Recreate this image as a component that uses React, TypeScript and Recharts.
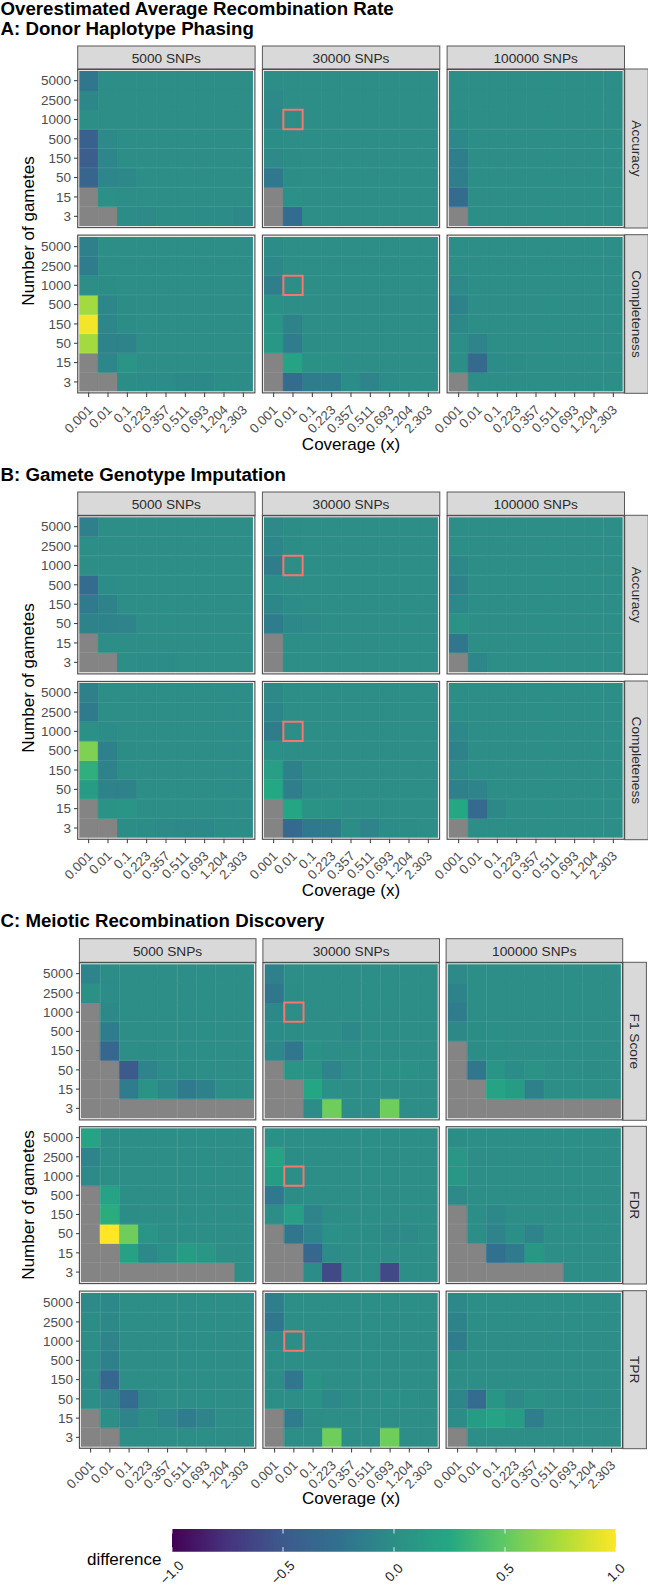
import { AreaChart, Area, BarChart, Bar, Cell, CartesianGrid, ReferenceArea, ReferenceLine, XAxis, YAxis } from "recharts";

const FONT = "'Liberation Sans', Arimo, Helvetica, Arial, sans-serif";

const COVERAGE = ["0.001", "0.01", "0.1", "0.223", "0.357", "0.511", "0.693", "1.204", "2.303"];
const GAMETES = ["5000", "2500", "1000", "500", "150", "50", "15", "3"];
const SNPS = ["5000 SNPs", "30000 SNPs", "100000 SNPs"];
const LEGEND_TICKS = [-1, -0.5, 0, 0.5, 1];
const N = null;

// rows run top to bottom (5000 .. 3 gametes), columns follow COVERAGE, null = no data
const phasingAccuracy5k = [
  [-0.2, 0, 0, 0, 0, 0, 0, 0, 0],
  [-0.06, 0, 0, 0, 0, 0, 0, 0, 0],
  [0.01, 0, 0, 0, 0, 0, 0, 0, 0],
  [-0.42, -0.03, 0, 0, 0, 0, 0, 0, 0],
  [-0.45, -0.07, 0, 0, 0, 0, 0, 0, 0],
  [-0.38, -0.07, -0.05, 0, 0, 0, 0, 0, 0],
  [N, 0.02, 0, 0, 0, 0, 0, 0, 0],
  [N, N, -0.01, -0.03, -0.01, -0.01, -0.02, -0.02, -0.04],
];
const phasingAccuracy30k = [
  [0, 0, 0, 0, 0, 0, 0, 0, 0],
  [-0.03, 0, 0, 0, 0, 0, 0, 0, 0],
  [-0.05, 0, 0, 0, 0, 0, 0, 0, 0],
  [-0.01, 0, 0, 0, 0, 0, 0, 0, 0],
  [-0.03, -0.01, 0, 0, 0, 0, 0, 0, 0],
  [-0.18, -0.01, 0, 0, 0, 0, 0, 0, 0],
  [N, 0.02, 0, 0, 0, 0, 0, 0, 0],
  [N, -0.3, 0, 0, 0, 0, 0, 0, 0],
];
const phasingAccuracy100k = [
  [0, 0, 0, 0, 0, 0, 0, 0, 0],
  [0, 0, 0, 0, 0, 0, 0, 0, 0],
  [-0.01, 0, 0, 0, 0, 0, 0, 0, 0],
  [-0.05, 0, 0, 0, 0, 0, 0, 0, 0],
  [-0.13, 0, 0, 0, 0, 0, 0, 0, 0],
  [-0.13, 0, 0, 0, 0, 0, 0, 0, 0],
  [-0.3, 0, 0, 0, 0, 0, 0, 0, 0],
  [N, 0.005, 0, 0, 0, 0, 0, 0, 0],
];
const phasingComplete5k = [
  [-0.12, 0, 0, 0, 0, 0, 0, 0, 0],
  [-0.15, 0, 0, 0, 0, 0, 0, 0, 0],
  [0, -0.01, 0, 0, 0, 0, 0, 0, 0],
  [0.72, -0.07, -0.01, 0, 0, 0, 0, 0, 0],
  [0.97, -0.07, -0.01, 0, 0, 0, 0, 0, 0],
  [0.72, -0.1, -0.1, 0, 0, 0, 0, 0, 0],
  [N, -0.07, 0.06, 0, 0, 0, 0, 0, 0],
  [N, N, -0.01, -0.02, -0.02, -0.04, -0.04, -0.01, -0.02],
];
const phasingComplete30k = [
  [-0.02, 0, 0, 0, 0, 0, 0, 0, 0],
  [-0.05, 0, 0, 0, 0, 0, 0, 0, 0],
  [-0.13, 0, 0, 0, 0, 0, 0, 0, 0],
  [0.03, 0, 0, 0, 0, 0, 0, 0, 0],
  [0.07, -0.1, 0, 0, 0, 0, 0, 0, 0],
  [0.1, -0.15, -0.01, 0, 0, 0, 0, 0, 0],
  [N, 0.2, 0.03, 0.03, 0, 0, 0, 0, 0],
  [N, -0.3, -0.15, -0.15, -0.02, -0.08, -0.02, 0, 0],
];
const phasingComplete100k = [
  [0, 0, 0, 0, 0, 0, 0, 0, 0],
  [0, 0, 0, 0, 0, 0, 0, 0, 0],
  [-0.03, 0, 0, 0, 0, 0, 0, 0, 0],
  [-0.1, 0, 0, 0, 0, 0, 0, 0, 0],
  [-0.04, 0, 0, 0, 0, 0, 0, 0, 0],
  [0, -0.08, 0, 0, 0, 0, 0, 0, 0],
  [0, -0.33, -0.02, -0.01, 0, 0, 0, 0, 0],
  [N, 0, 0, 0, 0, 0, 0, 0, 0],
];

const imputeAccuracy5k = [
  [-0.12, 0, 0, 0, 0, 0, 0, 0, 0],
  [0.01, 0, 0, 0, 0, 0, 0, 0, 0],
  [0, 0, 0, 0, 0, 0, 0, 0, 0],
  [-0.3, -0.02, 0, 0, 0, 0, 0, 0, 0],
  [-0.17, -0.1, 0, 0, 0, 0, 0, 0, 0],
  [-0.1, -0.1, -0.08, 0, 0, 0, 0, 0, 0],
  [N, 0, 0, 0, 0, 0, 0, 0, 0],
  [N, N, 0, -0.02, -0.02, 0, 0, 0, 0],
];
const imputeAccuracy30k = [
  [-0.03, -0.01, 0, 0, 0, 0, 0, 0, 0],
  [-0.07, -0.01, 0, 0, 0, 0, 0, 0, 0],
  [-0.14, 0, 0, 0, 0, 0, 0, 0, 0],
  [-0.02, 0, 0, 0, 0, 0, 0, 0, 0],
  [-0.06, -0.02, 0, 0, 0, 0, 0, 0, 0],
  [-0.15, -0.05, -0.03, 0, 0, 0, 0, 0, 0],
  [N, 0, 0, 0, 0, 0, 0, 0, 0],
  [N, 0, 0, 0, 0, 0, 0, 0, 0],
];
const imputeAccuracy100k = [
  [0, 0, 0, 0, 0, 0, 0, 0, 0],
  [0, 0, 0, 0, 0, 0, 0, 0, 0],
  [-0.04, 0, 0, 0, 0, 0, 0, 0, 0],
  [-0.1, 0, 0, 0, 0, 0, 0, 0, 0],
  [-0.05, 0, 0, 0, 0, 0, 0, 0, 0],
  [0.04, 0, 0, 0, 0, 0, 0, 0, 0],
  [-0.2, 0, 0, 0, 0, 0, 0, 0, 0],
  [N, -0.07, 0, 0, 0, 0, 0, 0, 0],
];
const imputeComplete5k = [
  [-0.12, 0, 0, 0, 0, 0, 0, 0, 0],
  [-0.17, 0, 0, 0, 0, 0, 0, 0, 0],
  [0.03, -0.02, 0, 0, 0, 0, 0, 0, 0],
  [0.6, -0.12, -0.01, 0, 0, 0, 0, 0, 0],
  [0.3, -0.1, 0, 0, 0, 0, 0, 0, 0],
  [0.13, -0.1, -0.1, 0, 0, 0, 0, 0, 0],
  [N, 0.05, 0.06, 0, 0, 0, 0, 0, 0],
  [N, N, -0.01, -0.02, -0.03, -0.05, -0.05, -0.01, -0.02],
];
const imputeComplete30k = [
  [-0.04, 0, 0, 0, 0, 0, 0, 0, 0],
  [-0.07, 0, 0, 0, 0, 0, 0, 0, 0],
  [-0.14, 0, 0, 0, 0, 0, 0, 0, 0],
  [0.02, 0, 0, 0, 0, 0, 0, 0, 0],
  [0.15, -0.12, -0.01, 0, 0, 0, 0, 0, 0],
  [0.25, -0.13, -0.02, 0, 0, 0, 0, 0, 0],
  [N, 0.22, 0.04, 0.03, 0, 0, 0, 0, 0],
  [N, -0.33, -0.18, -0.16, -0.01, -0.08, -0.02, -0.01, 0],
];
const imputeComplete100k = [
  [0, 0, 0, 0, 0, 0, 0, 0, 0],
  [0, 0, 0, 0, 0, 0, 0, 0, 0],
  [-0.05, 0, 0, 0, 0, 0, 0, 0, 0],
  [-0.1, 0, 0, 0, 0, 0, 0, 0, 0],
  [-0.03, 0, 0, 0, 0, 0, 0, 0, 0],
  [-0.12, -0.08, 0, 0, 0, 0, 0, 0, 0],
  [0.25, -0.33, -0.04, 0, 0, 0, 0, 0, 0],
  [N, 0, 0, 0, 0, 0, 0, 0, 0],
];

const discoveryF15k = [
  [-0.08, -0.02, 0, 0, 0, 0, 0, 0, 0],
  [0.03, -0.02, 0, 0, 0, 0, 0, 0, 0],
  [N, -0.04, 0, 0, 0, 0, 0, 0, 0],
  [N, -0.15, 0, 0, 0, 0, 0, 0, 0],
  [N, -0.35, 0, -0.01, 0, 0, 0, 0, 0],
  [N, N, -0.5, -0.08, -0.02, -0.01, 0, 0, 0],
  [N, N, -0.15, 0.05, -0.05, -0.17, -0.12, 0, 0],
  [N, N, N, N, N, N, N, N, N],
];
const discoveryF130k = [
  [-0.12, 0, 0, 0, 0, 0, 0, 0, 0],
  [-0.2, -0.01, 0, 0, 0, 0, 0, 0, 0],
  [-0.05, 0, 0, 0, 0, 0, 0, 0, 0],
  [-0.02, -0.01, 0, 0, -0.05, 0, 0, 0, 0],
  [-0.05, -0.2, 0.03, 0, 0, 0, 0, 0, 0],
  [N, 0.06, 0.04, -0.08, 0, 0, 0.03, 0.03, 0],
  [N, N, 0.22, 0.02, 0, 0, 0, 0, 0],
  [N, N, -0.02, 0.55, 0, 0, 0.55, 0, 0],
];
const discoveryF1100k = [
  [-0.03, 0, 0, 0, 0, 0, 0, 0, 0],
  [-0.1, 0, 0, 0, 0, 0, 0, 0, 0],
  [-0.15, 0, 0, 0, 0, 0, 0, 0, 0],
  [-0.04, -0.01, 0.01, 0, 0, 0, 0, 0, 0],
  [N, -0.01, 0.01, 0, 0, 0, 0, 0, 0],
  [N, -0.2, 0.07, -0.02, 0.05, 0, 0, -0.01, 0],
  [N, N, 0.2, 0.13, -0.12, 0, 0, 0, 0],
  [N, N, N, N, N, N, N, N, N],
];
const discoveryFdr5k = [
  [0.2, 0, 0, 0, 0, 0, 0, 0, 0],
  [-0.08, 0, 0, 0, 0, 0, 0, 0, 0],
  [-0.03, 0, 0, 0, 0, 0, 0, 0, 0],
  [N, 0.2, 0, 0, 0, 0, 0, 0, 0],
  [N, 0.28, -0.02, 0, 0, 0, 0, 0, 0],
  [N, 1, 0.55, 0.06, 0, 0.01, 0, 0, 0],
  [N, N, 0.18, -0.05, 0.02, 0.13, 0.08, 0, 0],
  [N, N, N, N, N, N, N, N, 0],
];
const discoveryFdr30k = [
  [0.03, 0, 0, 0, 0, 0, 0, 0, 0],
  [0.2, -0.01, 0, 0, 0, 0, 0, 0, 0],
  [0.13, 0, 0, 0, 0, 0, 0, 0, 0],
  [-0.18, -0.01, 0, 0, 0, 0, 0, 0, 0],
  [0, 0.15, -0.08, -0.01, 0, 0, 0, 0, 0],
  [N, -0.2, -0.08, 0.02, 0, -0.01, -0.03, -0.03, 0],
  [N, N, -0.35, -0.02, 0, 0, 0, 0, 0],
  [N, N, -0.02, -0.6, 0, 0, -0.6, 0, 0],
];
const discoveryFdr100k = [
  [-0.01, 0, 0, 0, 0, 0, 0, 0, 0],
  [0.08, 0, 0, 0, 0, 0, 0, 0, 0],
  [0.09, 0, 0, 0, 0, 0, 0, 0, 0],
  [-0.03, 0, 0, 0, 0, 0, 0, 0, 0],
  [N, 0, -0.05, 0, 0, 0, 0, 0, 0],
  [N, 0, -0.08, 0.01, -0.08, 0, 0, 0, 0],
  [N, N, -0.25, -0.17, 0.1, 0, 0, 0, 0],
  [N, N, N, N, N, N, 0, 0, 0],
];
const discoveryTpr5k = [
  [-0.03, -0.05, 0, 0, 0, 0, 0, 0, 0],
  [-0.01, -0.04, 0, 0, 0, 0, 0, 0, 0],
  [0, -0.08, 0, 0, 0, 0, 0, 0, 0],
  [0, -0.12, 0, 0, 0, 0, 0, 0, 0],
  [0, -0.35, 0, 0, 0, 0, 0, 0, 0],
  [0, -0.07, -0.3, -0.04, 0, 0, 0, 0, 0],
  [N, 0, -0.08, -0.01, -0.07, -0.15, -0.08, 0, 0],
  [N, N, 0, 0, 0, 0, 0, 0, 0],
];
const discoveryTpr30k = [
  [-0.13, 0, 0, 0, 0, 0, 0, 0, 0],
  [-0.2, 0, 0, 0, 0, 0, 0, 0, 0],
  [-0.03, 0, 0, 0, 0, 0, 0, 0, 0],
  [0, 0, 0, 0, 0, 0, 0, 0, 0],
  [0, -0.2, 0.05, 0, 0, 0, 0, 0, 0],
  [0, 0, 0.03, -0.05, -0.01, 0, 0.02, 0.01, -0.01],
  [N, -0.15, -0.01, 0, 0, 0, 0, 0, 0],
  [N, 0, 0, 0.55, 0, 0, 0.55, 0, 0],
];
const discoveryTpr100k = [
  [-0.05, 0, 0, 0, 0, 0, 0, 0, 0],
  [-0.1, 0, 0, 0, 0, 0, 0, 0, 0],
  [-0.15, 0, 0, 0, 0, 0, 0, 0, 0],
  [-0.01, 0, 0, 0, 0, 0, 0, 0, 0],
  [0, 0, 0, 0, 0, 0, 0, 0, 0],
  [-0.07, -0.3, 0.07, -0.03, 0.03, 0, -0.01, -0.02, -0.01],
  [-0.02, 0.13, 0.2, 0.13, -0.13, 0, 0, 0, 0],
  [N, 0, 0, 0, 0, 0, 0, 0, 0],
];

// viridis, nudged towards the tones in the reference
const VIRIDIS = ["#440154", "#46337F", "#3D5A8D", "#31708F", "#2C8E87", "#23A883", "#60C963", "#ACDC3A", "#FDE725"];

const GREY = "#848484";

function hexToRgb(h: string) {
  return [1, 3, 5].map((i) => parseInt(h.slice(i, i + 2), 16));
}

function colorOf(v: number | null) {
  if (v === null) return GREY;
  const t = ((Math.max(-1, Math.min(1, v)) + 1) / 2) * (VIRIDIS.length - 1);
  const i = Math.min(Math.floor(t), VIRIDIS.length - 2);
  const a = hexToRgb(VIRIDIS[i]);
  const b = hexToRgb(VIRIDIS[i + 1]);
  const mix = a.map((c, k) => Math.round(c + (b[k] - c) * (t - i)));
  return `rgb(${mix[0]},${mix[1]},${mix[2]})`;
}

// same layout for every facet table: value 1 is one tile tall
const tileTable = COVERAGE.map((c) => {
  const row: Record<string, number | string> = { coverage: c };
  GAMETES.forEach((g) => (row[`g${g}`] = 1));
  return row;
});
const yTicks = GAMETES.map((_, i) => GAMETES.length - i - 0.5);

const AXIS_W = 40;
const AXIS_H = 52;
const LEGEND_PAD = 24;

function XTick({ x, y, payload }: any) {
  return (
    <text
      x={x}
      y={y + 7}
      transform={`rotate(-45 ${x} ${y + 7})`}
      textAnchor="end"
      fontSize={13.2}
      fill="#4D4D4D"
      fontFamily={FONT}
      dy="0.5em"
    >
      {payload.value}
    </text>
  );
}

function LegendTick({ x, y, payload }: any) {
  const cy = y + 13;
  const v = payload.value as number;
  const label = (v < 0 ? "\u2212" : "") + Math.abs(v).toFixed(1);
  return (
    <text
      x={x}
      y={cy}
      transform={`rotate(-45 ${x} ${cy})`}
      textAnchor="middle"
      dominantBaseline="central"
      fontSize={13.6}
      fill="#222"
      fontFamily={FONT}
    >
      {label}
    </text>
  );
}

type PanelProps = {
  matrix: (number | null)[][];
  left: number;
  top: number;
  width: number;
  height: number;
  showY: boolean;
  showX: boolean;
  box: boolean;
  hSeams: number[];
  vSeams: number[];
};

function Panel({ matrix, left, top, width, height, showY, showX, box, hSeams, vSeams }: PanelProps) {
  return (
    <div style={{ position: "absolute", left: left - AXIS_W, top }}>
      <BarChart
        width={width + AXIS_W}
        height={height + AXIS_H}
        data={tileTable}
        barCategoryGap={0}
        margin={{ top: 0, right: 0, bottom: 0, left: 0 }}
      >
        <XAxis
          dataKey="coverage"
          height={AXIS_H}
          interval={0}
          axisLine={false}
          tickSize={5.5}
          stroke="#333"
          tickLine={showX ? { stroke: "#333" } : false}
          tick={showX ? <XTick /> : false}
        />
        <YAxis
          type="number"
          domain={[0, 8]}
          ticks={yTicks}
          interval={0}
          width={AXIS_W}
          axisLine={false}
          tickSize={5}
          tickMargin={3}
          tickLine={showY ? { stroke: "#333" } : false}
          tick={showY ? { fontSize: 13.5, fill: "#4D4D4D", fontFamily: FONT } : false}
          tickFormatter={(v: number) => GAMETES[7 - Math.floor(v)]}
        />
        {[...GAMETES].reverse().map((g) => {
          const i = GAMETES.indexOf(g);
          return (
            <Bar key={g} dataKey={`g${g}`} stackId="tiles" isAnimationActive={false}>
              {COVERAGE.map((c, j) => (
                <Cell key={c} fill={colorOf(matrix[i][j])} stroke={colorOf(matrix[i][j])} strokeWidth={1} />
              ))}
            </Bar>
          );
        })}
        <CartesianGrid
          zIndex={800}
          stroke="#fff"
          strokeOpacity={0.1}
          strokeWidth={1}
          vertical={vSeams.length > 0}
          horizontalCoordinatesGenerator={({ offset }: any) => hSeams.map((k) => offset.top + offset.height * (1 - k / 8))}
          verticalCoordinatesGenerator={({ offset }: any) => vSeams.map((k) => offset.left + (offset.width * k) / 9)}
        />
        {box && (
          <ReferenceArea
            zIndex={900}
            x1="0.01"
            x2="0.01"
            y1={5}
            y2={6}
            fill="none"
            fillOpacity={0}
            stroke="#F8766D"
            strokeWidth={2}
            strokeOpacity={1}
          />
        )}
      </BarChart>
    </div>
  );
}

const ALL_H = [1, 2, 3, 4, 5, 6, 7];
const LOW_H = [1, 2, 3, 4, 5];

const SECTIONS = [
  {
    title: "A: Donor Haplotype Phasing",
    titleY: 35,
    strip: [46, 69],
    xs: [79.3, 264, 448.7],
    tileW: 174,
    gametesY: 231,
    coverageY: 450,
    vSeams: [[], [], [8]],
    rows: [
      { label: "Accuracy", top: 71, bottom: 226, h: LOW_H, data: [phasingAccuracy5k, phasingAccuracy30k, phasingAccuracy100k] },
      { label: "Completeness", top: 236.7, bottom: 391.3, h: ALL_H, data: [phasingComplete5k, phasingComplete30k, phasingComplete100k] },
    ],
  },
  {
    title: "B: Gamete Genotype Imputation",
    titleY: 481,
    strip: [492, 515.3],
    xs: [79.3, 264, 448.7],
    tileW: 174,
    gametesY: 678,
    coverageY: 896,
    vSeams: [[], [], [8]],
    rows: [
      { label: "Accuracy", top: 517.3, bottom: 672.3, h: ALL_H, data: [imputeAccuracy5k, imputeAccuracy30k, imputeAccuracy100k] },
      { label: "Completeness", top: 683, bottom: 837.7, h: ALL_H, data: [imputeComplete5k, imputeComplete30k, imputeComplete100k] },
    ],
  },
  {
    title: "C: Meiotic Recombination Discovery",
    titleY: 927,
    strip: [938.7, 962.3],
    xs: [81, 264.5, 447.7],
    tileW: 173.2,
    gametesY: 1205,
    coverageY: 1504,
    vSeams: [[1, 2, 5, 6, 7], [1, 2, 5, 6, 7], [1, 2, 6, 7]],
    rows: [
      { label: "F1 Score", top: 964.3, bottom: 1118.3, h: LOW_H, data: [discoveryF15k, discoveryF130k, discoveryF1100k] },
      { label: "FDR", top: 1128.3, bottom: 1282, h: ALL_H, data: [discoveryFdr5k, discoveryFdr30k, discoveryFdr100k] },
      { label: "TPR", top: 1292.7, bottom: 1446.7, h: ALL_H, data: [discoveryTpr5k, discoveryTpr30k, discoveryTpr100k] },
    ],
  },
];

const legendData = LEGEND_TICKS.map((v) => ({ v, h: 1 }));

export default function App() {
  return (
    <div style={{ position: "absolute", left: 0, top: 0, width: 648, height: 1595, background: "#fff", overflow: "hidden" }}>
      {SECTIONS.map((s) =>
        s.rows.map((r, ri) =>
          r.data.map((m, ci) => (
            <Panel
              key={`${s.title}${ri}${ci}`}
              matrix={m}
              left={s.xs[ci]}
              top={r.top}
              width={s.tileW}
              height={r.bottom - r.top}
              showY={ci === 0}
              showX={ri === s.rows.length - 1}
              box={ci === 1}
              hSeams={r.h}
              vSeams={s.vSeams[ci]}
            />
          ))
        )
      )}

      <svg width={648} height={1595} style={{ position: "absolute", left: 0, top: 0, pointerEvents: "none" }} fontFamily={FONT}>
        <text x={0.5} y={14.5} fontSize={18.7} fontWeight="bold" fill="#000">
          Overestimated Average Recombination Rate
        </text>
        {SECTIONS.map((s) => {
          const stripRight = s.xs[2] + s.tileW + 2 + 23.5;
          return (
            <g key={s.title}>
              <text x={0.5} y={s.titleY} fontSize={18.7} fontWeight="bold" fill="#000">
                {s.title}
              </text>
              <text
                x={28}
                y={s.gametesY}
                fontSize={17}
                fill="#000"
                textAnchor="middle"
                dominantBaseline="central"
                transform={`rotate(-90 28 ${s.gametesY})`}
              >
                Number of gametes
              </text>
              <text x={s.xs[1] + s.tileW / 2} y={s.coverageY} fontSize={17} fill="#000" textAnchor="middle">
                Coverage (x)
              </text>
              {s.xs.map((x, i) => (
                <g key={i}>
                  <rect x={x - 1.6} y={s.strip[0]} width={s.tileW + 3.4} height={s.strip[1] - s.strip[0]} fill="#D9D9D9" stroke="#595959" strokeWidth={1} />
                  <text x={x + s.tileW / 2} y={(s.strip[0] + s.strip[1]) / 2 + 5} fontSize={13.7} fill="#2b2b2b" textAnchor="middle">
                    {SNPS[i]}
                  </text>
                </g>
              ))}
              {s.rows.map((r) => {
                const cy = (r.top + r.bottom) / 2;
                const sx = s.xs[2] + s.tileW + 2;
                return (
                  <g key={r.label}>
                    <rect x={sx} y={r.top - 2} width={stripRight - sx} height={r.bottom - r.top + 4} fill="#D9D9D9" stroke="#595959" strokeWidth={1} />
                    <text
                      x={sx + 11.5}
                      y={cy}
                      fontSize={13.7}
                      fill="#2b2b2b"
                      textAnchor="middle"
                      dominantBaseline="central"
                      transform={`rotate(90 ${sx + 11.5} ${cy})`}
                    >
                      {r.label}
                    </text>
                    {s.xs.map((x, i) => (
                      <g key={i} fill="none">
                        <rect x={x - 0.6} y={r.top - 0.6} width={s.tileW + 1.2} height={r.bottom - r.top + 1.2} stroke="#E6E6E6" strokeWidth={1.2} />
                        <rect x={x - 1.6} y={r.top - 1.6} width={s.tileW + 3.2} height={r.bottom - r.top + 3.2} stroke="#4A4A4A" strokeWidth={1.1} />
                      </g>
                    ))}
                  </g>
                );
              })}
            </g>
          );
        })}
        <text x={87} y={1564.5} fontSize={17} fill="#000">
          difference
        </text>
      </svg>

      <div style={{ position: "absolute", left: 171.5 - LEGEND_PAD, top: 1529 }}>
        <AreaChart
          width={444 + LEGEND_PAD * 2}
          height={62}
          data={legendData}
          margin={{ top: 0, right: LEGEND_PAD, bottom: 0, left: LEGEND_PAD }}
        >
          <defs>
            <linearGradient id="viridisBar" x1="0" y1="0" x2="1" y2="0">
              {VIRIDIS.map((c, i) => (
                <stop key={c} offset={`${(i / (VIRIDIS.length - 1)) * 100}%`} stopColor={c} />
              ))}
            </linearGradient>
          </defs>
          <XAxis
            dataKey="v"
            type="number"
            domain={[-1, 1]}
            ticks={LEGEND_TICKS}
            interval={0}
            height={39.3}
            axisLine={false}
            tickLine={false}
            tick={<LegendTick />}
          />
          <YAxis type="number" domain={[0, 1]} hide />
          <Area dataKey="h" type="linear" stroke="none" fill="url(#viridisBar)" fillOpacity={1} isAnimationActive={false} dot={false} activeDot={false} />
          {LEGEND_TICKS.map((v) => (
            <ReferenceLine key={v} x={v} stroke="#fff" strokeWidth={1} strokeOpacity={0.85} strokeDasharray="4.5 13.7 4.5" ifOverflow="visible" />
          ))}
        </AreaChart>
      </div>
    </div>
  );
}
